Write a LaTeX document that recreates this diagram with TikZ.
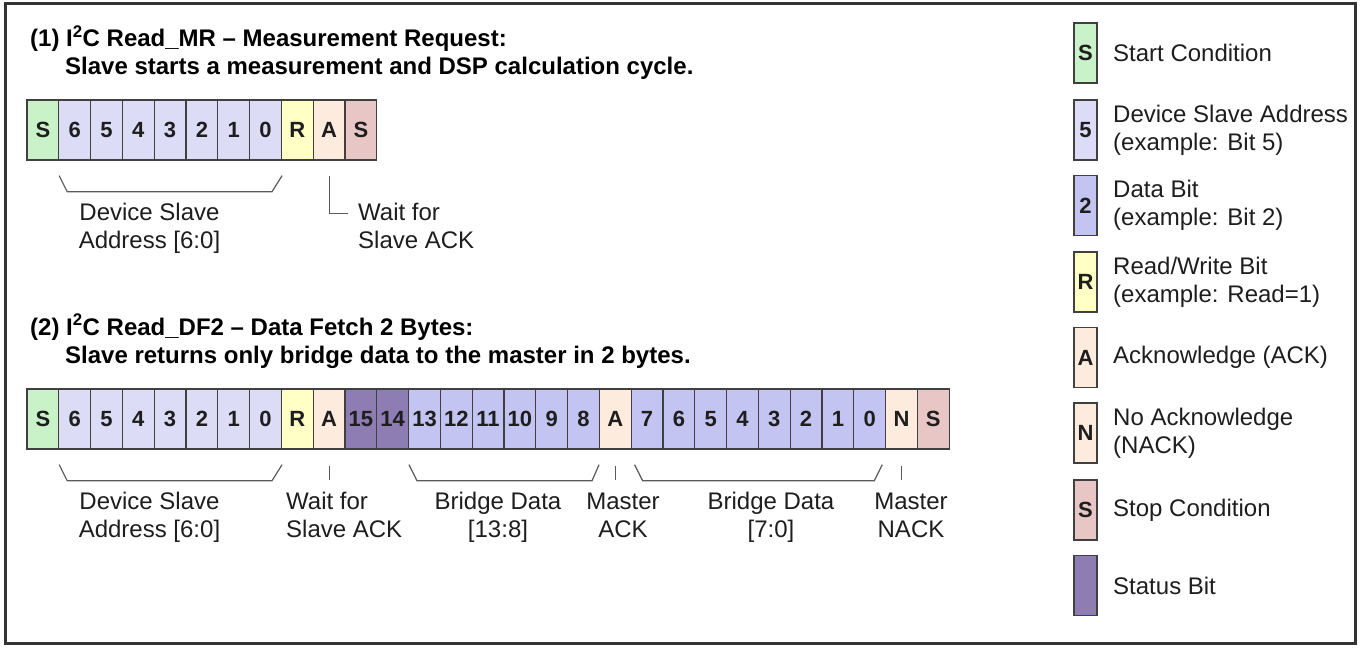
\documentclass[tikz,border=0pt]{standalone}
\usepackage{fontspec}
\setmainfont{Liberation Sans}
\usetikzlibrary{calc}
\definecolor{startc}{HTML}{C9F2C9}
\definecolor{addrc}{HTML}{DCDCF7}
\definecolor{datac}{HTML}{C4C4F2}
\definecolor{rwc}{HTML}{FFFFC6}
\definecolor{ackc}{HTML}{FDEBDD}
\definecolor{stopc}{HTML}{E8C6C6}
\definecolor{statc}{HTML}{8E7DB3}
\definecolor{cellline}{HTML}{404040}
\definecolor{annline}{HTML}{5A5A5A}
\definecolor{frame}{HTML}{333333}
\definecolor{txt}{HTML}{1E1E1E}
\newcommand\cellfnt{\fontsize{22}{22}\selectfont\bfseries}
\newcommand\labfnt{\fontsize{24}{28}\selectfont}
\newcommand\titfnt{\fontsize{24}{28}\selectfont\bfseries}
\begin{document}
\begin{tikzpicture}[x=1pt,y=-1pt,
  cell/.style={draw=cellline, line width=1.3pt, minimum width=31.8pt, minimum height=60pt, inner sep=0pt, font=\cellfnt, text=txt},
  lbox/.style={draw=cellline, line width=1.3pt, minimum width=23pt, minimum height=60pt, inner sep=0pt, font=\cellfnt, text=txt},
  lab/.style={font=\labfnt, align=center, anchor=base, inner sep=0pt, text=txt},
  lablt/.style={font=\labfnt, align=left, anchor=base west, inner sep=0pt, text=txt},
  legtxt/.style={font=\labfnt, align=left, anchor=west, inner sep=0pt, text=txt},
  title/.style={font=\titfnt, anchor=base west, inner sep=0pt, text=black},
  ann/.style={draw=annline, line width=1.2pt}]
\useasboundingbox (0,0) rectangle (1360,649);
\fill[white] (0,0) rectangle (1360,649);
\draw[frame, line width=3pt] (5,3) rectangle (1355,643);

% titles
\node[title] (t1) at (30,46.5) {(1) I\textsuperscript{2}C Read\_MR – Measurement Request:};
\node[title] (t1b) at (65,74) {Slave starts a measurement and DSP calculation cycle.};
\node[title] (t2) at (30,335) {(2) I\textsuperscript{2}C Read\_DF2 – Data Fetch 2 Bytes:};
\node[title] (t2b) at (65,363) {Slave returns only bridge data to the master in 2 bytes.};

% row 1
\foreach \t/\c [count=\i from 0] in {S/startc,6/addrc,5/addrc,4/addrc,3/addrc,2/addrc,1/addrc,0/addrc,R/rwc,A/ackc,S/stopc}
  \node[cell,fill=\c] (a\i) at ({27+31.8*(\i+0.5)},130) {\t};

\draw[ann] ($(a1.south west)+(1,15)$) -- ++(8,16) -- ($(a7.south east)+(-10,31)$) -- ($(a7.south east)+(0,15)$);
\draw[ann] ($(a9.south)+(0,15)$) |- ($(a9.south)+(19,53)$);
\node[lab] (l1) at (149.5,248) {Device Slave\\Address {[6:0]}};
\node[lablt] (l2) at (358,248) {Wait for\\Slave ACK};

% row 2
\foreach \t/\c [count=\i from 0] in {S/startc,6/addrc,5/addrc,4/addrc,3/addrc,2/addrc,1/addrc,0/addrc,R/rwc,A/ackc,15/statc,14/statc,13/datac,12/datac,11/datac,10/datac,9/datac,8/datac,A/ackc,7/datac,6/datac,5/datac,4/datac,3/datac,2/datac,1/datac,0/datac,N/ackc,S/stopc}
  \node[cell,fill=\c] (b\i) at ({27+31.8*(\i+0.5)},419) {\t};

\draw[ann] ($(b1.south west)+(1,15)$) -- ++(8,16) -- ($(b7.south east)+(-10,31)$) -- ($(b7.south east)+(0,15)$);
\draw[ann] ($(b12.south west)+(1,15)$) -- ++(8,16) -- ($(b17.south east)+(-8,31)$) -- ($(b17.south east)+(-1,15)$);
\draw[ann] ($(b19.south west)+(4,15)$) -- ++(8,16) -- ($(b26.south east)+(-12,31)$) -- ($(b26.south east)+(-4,15)$);
\draw[ann] ($(b9.south)+(0,16)$) -- ++(0,14);
\draw[ann] ($(b18.south)+(0,16)$) -- ++(0,14);
\draw[ann] ($(b27.south)+(0,16)$) -- ++(0,14);

\node[lab] (m1) at (149.5,537) {Device Slave\\Address {[6:0]}};
\node[lablt] (m2) at (286,537) {Wait for\\Slave ACK};
\node[lab] (m3) at (498,537) {Bridge Data\\{[13:8]}};
\node[lab] (m4) at (623,537) {Master\\ACK};
\node[lab] (m5) at (771,537) {Bridge Data\\{[7:0]}};
\node[lab] (m6) at (911,537) {Master\\NACK};

% legend
\foreach \t/\c/\y/\d [count=\i] in {
  S/startc/53/{Start Condition},
  5/addrc/130/{Device Slave Address\\(example: Bit 5)},
  2/datac/205.5/{Data Bit\\(example: Bit 2)},
  R/rwc/282/{Read/Write Bit\\(example: Read=1)},
  A/ackc/357.5/{Acknowledge (ACK)},
  N/ackc/433/{No Acknowledge\\(NACK)},
  S/stopc/510/{Stop Condition},
  {}/statc/585.5/{Status Bit}}
{
  \node[lbox,fill=\c] (g\i) at (1085.5,\y) {\t};
  \node[legtxt] (gt\i) at (1113,\y) {\d};
}
\end{tikzpicture}
\end{document}
